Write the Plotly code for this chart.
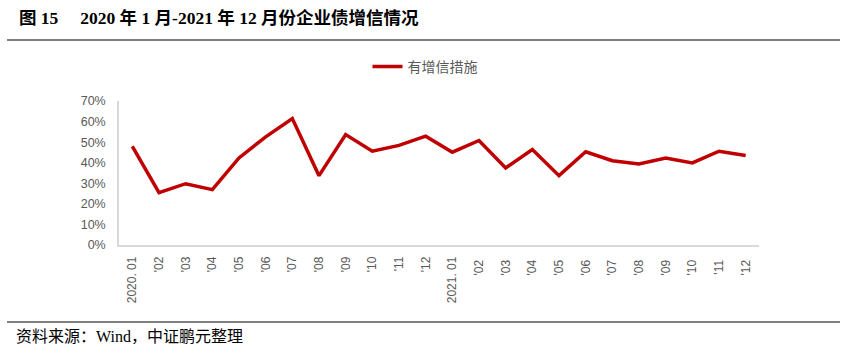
import plotly.graph_objects as go

months = ["2020. 01", "'02", "'03", "'04", "'05", "'06", "'07", "'08", "'09", "'10", "'11", "'12",
          "2021. 01", "'02 ", "'03 ", "'04 ", "'05 ", "'06 ", "'07 ", "'08 ", "'09 ", "'10 ", "'11 ", "'12 "]
values = [0.480, 0.255, 0.298, 0.269, 0.423, 0.526, 0.615, 0.337, 0.537, 0.456, 0.484, 0.529,
          0.451, 0.508, 0.375, 0.464, 0.337, 0.453, 0.410, 0.394, 0.423, 0.399, 0.456, 0.435]
series_name = "有增信措施"
title_text = "图 15\u2003 2020 年 1 月-2021 年 12 月份企业债增信情况"
source_text = "资料来源：Wind，中证鹏元整理"

W, H = 847, 352
L, R, T, B = 119, 759, 101, 245


def px(x):
    return (x - L) / (R - L)


def py(y):
    return (B - y) / (B - T)


fig = go.Figure()
fig.add_trace(go.Scatter(x=months, y=values, mode="lines", name=series_name,
                         line=dict(color="#c00000", width=3.5)))

fig.update_layout(
    width=W, height=H,
    margin=dict(l=L, r=W - R, t=T, b=H - B),
    paper_bgcolor="white", plot_bgcolor="white",
    showlegend=True,
    legend=dict(orientation="h", x=px(425), xanchor="center", y=py(67), yanchor="middle",
                font=dict(family="Noto Sans CJK SC", size=14, color="#595959"),
                bgcolor="rgba(0,0,0,0)"),
    font=dict(family="Liberation Sans, Arial, sans-serif"),
)
fig.update_xaxes(type="category", showline=True, linecolor="#d9d9d9", linewidth=1.5,
                 showgrid=False, ticks="", tickangle=-90, ticklabelstandoff=5,
                 tickfont=dict(family="Liberation Sans, Arial", size=12, color="#595959"),
                 range=[-0.5, len(months) - 0.5])
fig.update_yaxes(range=[0, 0.7], dtick=0.1, tickformat=".0%", showline=True,
                 linecolor="#d9d9d9", linewidth=1.5, showgrid=False, zeroline=False, ticks="",
                 ticklabelstandoff=9,
                 tickfont=dict(family="Liberation Sans, Arial", size=12.5, color="#595959"))

fig.add_shape(type="line", xref="paper", yref="paper", x0=px(7), x1=px(840), y0=py(40), y1=py(40),
              line=dict(color="black", width=1.2))
fig.add_shape(type="line", xref="paper", yref="paper", x0=px(7), x1=px(840), y0=py(322), y1=py(322),
              line=dict(color="black", width=1.2))
fig.add_annotation(xref="paper", yref="paper", x=px(17), y=py(18), xanchor="left", yanchor="middle",
                   text="<b>" + title_text + "</b>", showarrow=False,
                   font=dict(family="Liberation Serif, Noto Sans CJK SC", size=17.5, color="black"))
fig.add_annotation(xref="paper", yref="paper", x=px(14), y=py(336), xanchor="left", yanchor="middle",
                   text=source_text, showarrow=False,
                   font=dict(family="Liberation Serif, Noto Sans CJK SC", size=16, color="black"))

fig.write_html("out.html")
